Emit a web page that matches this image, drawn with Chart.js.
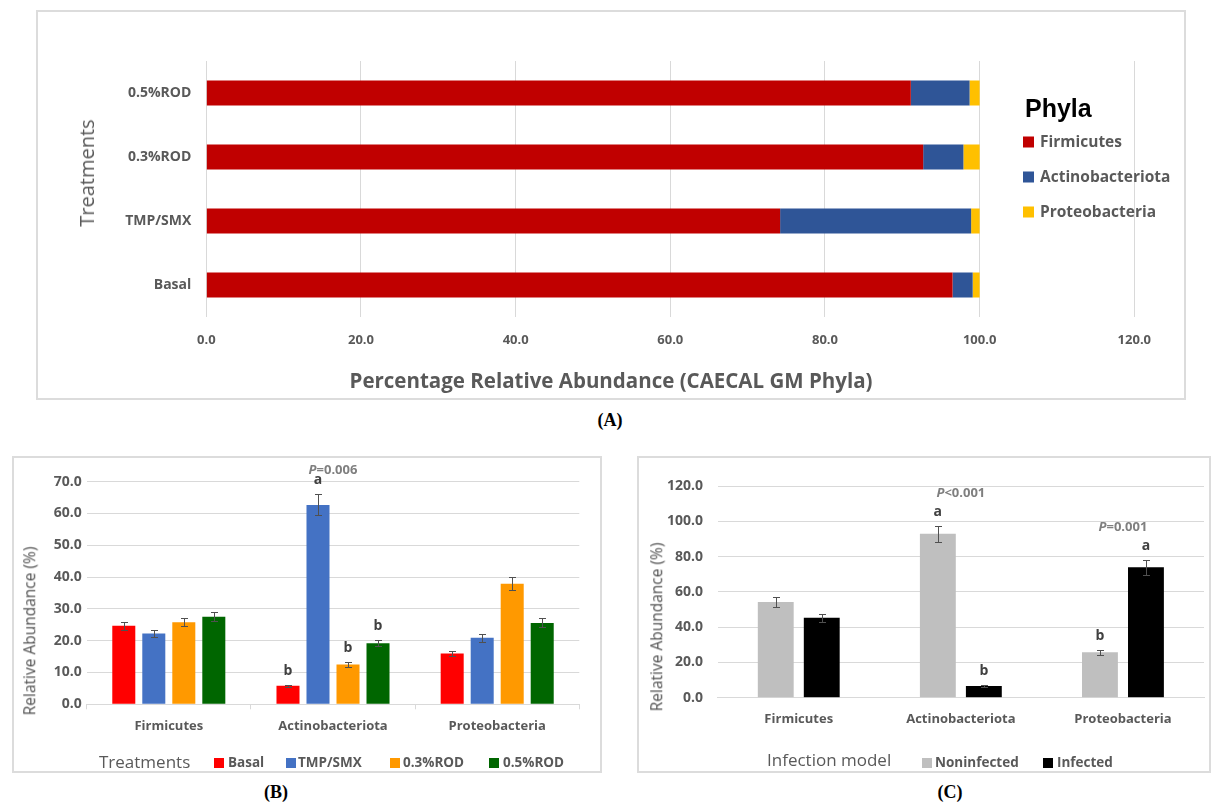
<!DOCTYPE html>
<html>
<head>
<meta charset="utf-8">
<script src="https://cdn.jsdelivr.net/npm/chart.js@4.4.1/dist/chart.umd.min.js"></script>
<style>
  body { margin: 0; background: #fff; width: 1213px; height: 802px; position: relative; overflow: hidden;
         font-family: 'Open Sans', 'DejaVu Sans', sans-serif; }
  .frame { position: absolute; border: 2px solid #dcdcdc; box-sizing: border-box; }
  canvas { position: absolute; }
  .t { position: absolute; white-space: nowrap; color: #595959; line-height: 1; transform: translateY(-50%); }
  .tc { position: absolute; white-space: nowrap; line-height: 1; transform: translate(-50%, -50%); }
  .tv { position: absolute; white-space: nowrap; color: #595959; line-height: 1; transform: translate(-50%, -50%) rotate(-90deg); }
  .cap { font-family: 'Liberation Serif', 'Times New Roman', serif; font-weight: bold; font-size: 18px; color: #000; }
  .sw { position: absolute; transform: translateY(-50%); }
</style>
</head>
<body>

<!-- (A) stacked composition -->
<div class="frame" style="left:36px;top:10px;width:1150px;height:390px"></div>
<canvas id="chartA" width="1150" height="390" style="left:36px;top:10px"></canvas>
<div class="tv" style="left:87px;top:173px;font-size:20px">Treatments</div>
<div class="tc" style="left:611px;top:380px;font-size:20.5px;font-weight:bold;color:#595959">Percentage Relative Abundance (CAECAL GM Phyla)</div>
<div class="t" style="left:1025px;top:108px;font:bold 25px 'Liberation Sans', Arial, sans-serif;color:#000">Phyla</div>
<div class="sw" style="left:1023px;top:142px;width:11px;height:11px;background:#C00000"></div>
<div class="t" style="left:1040px;top:142px;font-size:15.5px;font-weight:bold">Firmicutes</div>
<div class="sw" style="left:1023px;top:177px;width:11px;height:11px;background:#2F5597"></div>
<div class="t" style="left:1040px;top:177px;font-size:15.5px;font-weight:bold">Actinobacteriota</div>
<div class="sw" style="left:1023px;top:212px;width:11px;height:11px;background:#FFC000"></div>
<div class="t" style="left:1040px;top:212px;font-size:15.5px;font-weight:bold">Proteobacteria</div>
<div class="tc cap" style="left:610px;top:420px">(A)</div>

<!-- (B) treatments -->
<div class="frame" style="left:12px;top:456px;width:590px;height:317px"></div>
<canvas id="chartB" width="590" height="317" style="left:12px;top:456px"></canvas>
<div class="tv" style="left:30px;top:631px;font-size:15.5px;color:#505050">Relative Abundance (%)</div>
<div class="t" style="left:99px;top:761px;font-size:17px">Treatments</div>
<div class="sw" style="left:214px;top:763px;width:10px;height:10px;background:#FF0000"></div>
<div class="t" style="left:228px;top:763px;font-size:13.5px;font-weight:bold">Basal</div>
<div class="sw" style="left:286px;top:763px;width:10px;height:10px;background:#4472C4"></div>
<div class="t" style="left:298px;top:763px;font-size:13.5px;font-weight:bold">TMP/SMX</div>
<div class="sw" style="left:390px;top:763px;width:10px;height:10px;background:#FF9900"></div>
<div class="t" style="left:403px;top:763px;font-size:13.5px;font-weight:bold">0.3%ROD</div>
<div class="sw" style="left:489px;top:763px;width:10px;height:10px;background:#006600"></div>
<div class="t" style="left:503px;top:763px;font-size:13.5px;font-weight:bold">0.5%ROD</div>
<div class="tc cap" style="left:276px;top:792px">(B)</div>

<!-- (C) infection model -->
<div class="frame" style="left:637px;top:456px;width:574px;height:317px"></div>
<canvas id="chartC" width="574" height="317" style="left:637px;top:456px"></canvas>
<div class="tv" style="left:657px;top:627px;font-size:15.5px;color:#505050">Relative Abundance (%)</div>
<div class="t" style="left:767px;top:759px;font-size:17px">Infection model</div>
<div class="sw" style="left:922px;top:763px;width:10px;height:10px;background:#BFBFBF"></div>
<div class="t" style="left:935px;top:763px;font-size:13.5px;font-weight:bold">Noninfected</div>
<div class="sw" style="left:1043px;top:763px;width:10px;height:10px;background:#000000"></div>
<div class="t" style="left:1057px;top:763px;font-size:13.5px;font-weight:bold">Infected</div>
<div class="tc cap" style="left:950px;top:792px">(C)</div>

<script>
// ---- (A) caecal phyla composition per treatment (%) ----
const treatments = ['Basal', 'TMP/SMX', '0.3%ROD', '0.5%ROD'];
const firmicutesShare = [96.5, 74.2, 92.7, 91.1];
const actinobacteriotaShare = [2.6, 24.7, 5.2, 7.6];
const proteobacteriaShare = [0.9, 1.1, 2.1, 1.3];

// ---- (B) relative abundance by treatment (mean, SEM, letters) ----
const phyla = ['Firmicutes', 'Actinobacteriota', 'Proteobacteria'];
const basalMean = [24.7, 5.8, 16.0];
const basalSem = [1.3, 0.3, 0.8];
const basalLetters = ['', 'b', ''];
const tmpSmxMean = [22.3, 62.7, 20.9];
const tmpSmxSem = [1.2, 3.3, 1.2];
const tmpSmxLetters = ['', 'a', ''];
const rod03Mean = [25.8, 12.5, 37.9];
const rod03Sem = [1.3, 0.8, 2.0];
const rod03Letters = ['', 'b', ''];
const rod05Mean = [27.5, 19.2, 25.6];
const rod05Sem = [1.4, 1.0, 1.4];
const rod05Letters = ['', 'b', ''];
const treatmentPValues = ['', 'P=0.006', ''];

// ---- (C) relative abundance by infection status ----
const noninfectedMean = [54.2, 92.9, 25.7];
const noninfectedSem = [2.8, 4.7, 1.3];
const noninfectedLetters = ['', 'a', 'b'];
const infectedMean = [45.3, 6.6, 73.9];
const infectedSem = [2.3, 0.5, 4.2];
const infectedLetters = ['', 'b', 'a'];
const infectionPValues = ['', 'P<0.001', 'P=0.001'];

Chart.defaults.font.family = "'Open Sans', 'DejaVu Sans', sans-serif";
Chart.defaults.color = '#595959';

const GRID = '#d9d9d9';
const oneDecimal = v => Number(v).toFixed(1);

// Error bars, significance letters and P-value notes drawn from the bar data
const errorBarPlugin = {
  id: 'errorBars',
  afterDatasetsDraw(chart, args, opts) {
    const ctx = chart.ctx;
    const yScale = chart.scales.y;
    const xScale = chart.scales.x;
    const letterTop = {};
    chart.data.datasets.forEach((ds, di) => {
      if (!ds.errors) return;
      const meta = chart.getDatasetMeta(di);
      meta.data.forEach((bar, i) => {
        const v = ds.data[i], e = ds.errors[i];
        const yHi = Math.round(yScale.getPixelForValue(v + e)) + 0.5;
        const yLo = Math.round(yScale.getPixelForValue(v - e)) + 0.5;
        const x = Math.round(bar.x) + 0.5;
        ctx.save();
        ctx.strokeStyle = '#505050';
        ctx.lineWidth = 1;
        ctx.beginPath();
        ctx.moveTo(x, yHi); ctx.lineTo(x, yLo);
        ctx.moveTo(x - 3.5, yHi); ctx.lineTo(x + 3.5, yHi);
        ctx.moveTo(x - 3.5, yLo); ctx.lineTo(x + 3.5, yLo);
        ctx.stroke();
        const letter = ds.letters && ds.letters[i];
        if (letter) {
          const ly = yHi - 14;
          ctx.font = "bold 14px 'Open Sans', sans-serif";
          ctx.fillStyle = '#404040';
          ctx.textAlign = 'center';
          ctx.textBaseline = 'middle';
          ctx.fillText(letter, bar.x, ly);
          letterTop[i] = Math.min(letterTop[i] ?? Infinity, ly);
        }
        ctx.restore();
      });
    });
    (opts.pValues || []).forEach((text, i) => {
      if (!text || letterTop[i] === undefined) return;
      const cx = xScale.getPixelForValue(i);
      const y = letterTop[i] - opts.pGap;
      const head = text.charAt(0), rest = text.slice(1);
      ctx.save();
      ctx.fillStyle = '#7f7f7f';
      ctx.textBaseline = 'middle';
      ctx.textAlign = 'left';
      const fHead = "italic bold 13px 'Open Sans', sans-serif";
      const fRest = "bold 13px 'Open Sans', sans-serif";
      ctx.font = fHead; const wHead = ctx.measureText(head).width;
      ctx.font = fRest; const wRest = ctx.measureText(rest).width;
      const x0 = cx - (wHead + wRest) / 2;
      ctx.font = fHead; ctx.fillText(head, x0, y);
      ctx.font = fRest; ctx.fillText(rest, x0 + wHead, y);
      ctx.restore();
    });
  }
};

// (A)
new Chart(document.getElementById('chartA'), {
  type: 'bar',
  data: {
    labels: treatments,
    datasets: [
      { label: 'Firmicutes', data: firmicutesShare, backgroundColor: '#C00000' },
      { label: 'Actinobacteriota', data: actinobacteriotaShare, backgroundColor: '#2F5597' },
      { label: 'Proteobacteria', data: proteobacteriaShare, backgroundColor: '#FFC000' }
    ]
  },
  options: {
    indexAxis: 'y',
    responsive: false,
    animation: false,
    layout: { padding: { top: 51, right: 51.7, left: 0, bottom: 43 } },
    datasets: { bar: { categoryPercentage: 1, barPercentage: 0.39 } },
    plugins: { legend: { display: false }, tooltip: { enabled: false } },
    scales: {
      x: {
        stacked: true, min: 0, max: 120,
        ticks: { stepSize: 20, padding: 15, callback: oneDecimal, font: { size: 13, weight: 'bold' }, color: '#595959' },
        grid: { color: GRID, drawTicks: false },
        border: { display: false },
        afterFit: s => { s.height = 40; }
      },
      y: {
        stacked: true, reverse: true,
        ticks: { padding: 15, font: { size: 14, weight: 'bold' }, color: '#595959' },
        grid: { display: false, drawTicks: false },
        border: { display: false },
        afterFit: s => { s.width = 170.3; }
      }
    }
  }
});

// (B)
new Chart(document.getElementById('chartB'), {
  type: 'bar',
  data: {
    labels: phyla,
    datasets: [
      { label: 'Basal', data: basalMean, errors: basalSem, letters: basalLetters, backgroundColor: '#FF0000' },
      { label: 'TMP/SMX', data: tmpSmxMean, errors: tmpSmxSem, letters: tmpSmxLetters, backgroundColor: '#4472C4' },
      { label: '0.3%ROD', data: rod03Mean, errors: rod03Sem, letters: rod03Letters, backgroundColor: '#FF9900' },
      { label: '0.5%ROD', data: rod05Mean, errors: rod05Sem, letters: rod05Letters, backgroundColor: '#006600' }
    ]
  },
  options: {
    responsive: false,
    animation: false,
    layout: { padding: { top: 25.7, right: 22.7, left: 0, bottom: 28.7 } },
    datasets: { bar: { categoryPercentage: 0.731, barPercentage: 0.767 } },
    plugins: {
      legend: { display: false }, tooltip: { enabled: false },
      errorBars: { pValues: treatmentPValues, pGap: 10 }
    },
    scales: {
      x: {
        ticks: { padding: 9, font: { size: 13, weight: 'bold' }, color: '#595959' },
        grid: { drawOnChartArea: false, drawTicks: true, tickLength: 5, color: GRID, offset: true },
        border: { color: GRID },
        afterFit: s => { s.height = 40; }
      },
      y: {
        min: 0, max: 70,
        ticks: { stepSize: 10, padding: 5, callback: oneDecimal, font: { size: 14, weight: 'bold' }, color: '#595959' },
        grid: { color: GRID, drawTicks: false },
        border: { display: false },
        afterFit: s => { s.width = 74.7; }
      }
    }
  },
  plugins: [errorBarPlugin]
});

// (C)
new Chart(document.getElementById('chartC'), {
  type: 'bar',
  data: {
    labels: phyla,
    datasets: [
      { label: 'Noninfected', data: noninfectedMean, errors: noninfectedSem, letters: noninfectedLetters, backgroundColor: '#BFBFBF' },
      { label: 'Infected', data: infectedMean, errors: infectedSem, letters: infectedLetters, backgroundColor: '#000000' }
    ]
  },
  options: {
    responsive: false,
    animation: false,
    layout: { padding: { top: 30, right: 7, left: 0, bottom: 35.3 } },
    datasets: { bar: { categoryPercentage: 0.5675, barPercentage: 0.78 } },
    plugins: {
      legend: { display: false }, tooltip: { enabled: false },
      errorBars: { pValues: infectionPValues, pGap: 19 }
    },
    scales: {
      x: {
        ticks: { padding: 14, font: { size: 13, weight: 'bold' }, color: '#595959' },
        grid: { display: false, drawTicks: false },
        border: { color: GRID },
        afterFit: s => { s.height = 40; }
      },
      y: {
        min: 0, max: 120,
        ticks: { stepSize: 20, padding: 14.7, callback: oneDecimal, font: { size: 14, weight: 'bold' }, color: '#595959' },
        grid: { color: GRID, drawTicks: false },
        border: { display: false },
        afterFit: s => { s.width = 80.7; }
      }
    }
  },
  plugins: [errorBarPlugin]
});
</script>
</body>
</html>
